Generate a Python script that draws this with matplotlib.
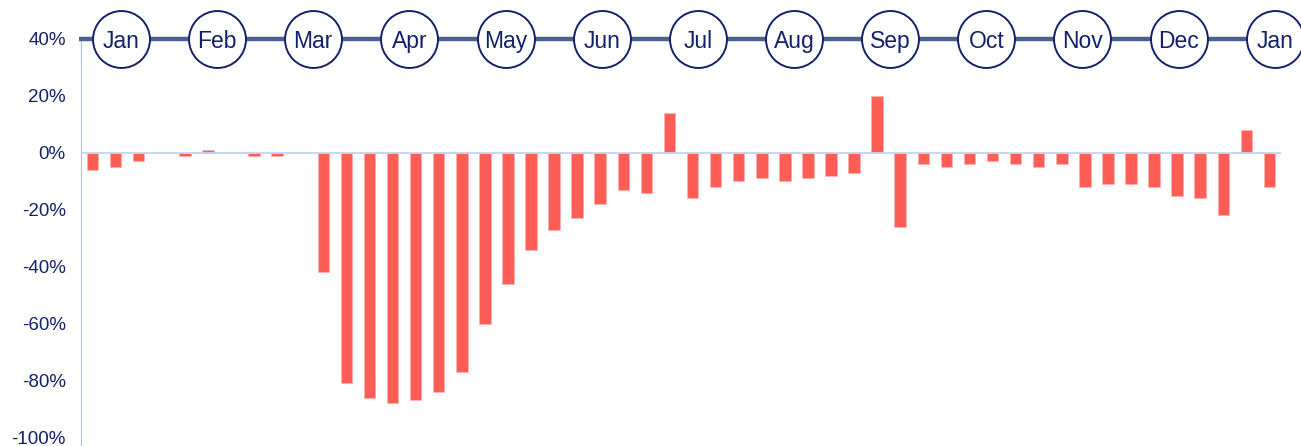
import numpy as np
import matplotlib.pyplot as plt

plt.rcParams['font.family'] = ['Liberation Sans', 'DejaVu Sans']

# weekly year-on-year change, %
weeks = np.arange(52)
change = [
    -6, -5, -3, 0, -1, 1, 0, -1, -1, 0,
    -42, -81, -86, -88, -87, -84, -77, -60, -46, -34,
    -27, -23, -18, -13, -14, 14, -16, -12, -10, -9,
    -10, -9, -8, -7, 20, -26, -4, -5, -4, -3,
    -4, -5, -4, -12, -11, -11, -12, -15, -16, -22,
    8, -12,
]
months = ['Jan', 'Feb', 'Mar', 'Apr', 'May', 'Jun', 'Jul',
          'Aug', 'Sep', 'Oct', 'Nov', 'Dec', 'Jan']
yticks = [40, 20, 0, -20, -40, -60, -80, -100]

navy = '#14216a'
bar_color = '#ff5e57'

fig = plt.figure(figsize=(13.01, 4.46), dpi=100)
ax = fig.add_axes([81 / 1301, 0, 1200 / 1301, 407 / 446])

ax.bar(weeks, change, width=0.5, color=bar_color, edgecolor='#ffb3b0',
       linewidth=0.4, zorder=2)
ax.axhline(0, color='#c3d3f5', linewidth=1.3, zorder=3)

ax.set_xlim(-0.5, 51.5)
ax.set_ylim(-103, 40)
ax.set_yticks(yticks)
ax.set_yticklabels([f'{t}%' for t in yticks])
ax.tick_params(axis='y', length=0, pad=11, labelsize=13.5, labelcolor=navy)
ax.set_xticks([])

for side in ['top', 'right', 'bottom']:
    ax.spines[side].set_visible(False)
ax.spines['left'].set_color('#b4bfdc')
ax.spines['left'].set_linewidth(0.8)

# month timeline along the top
mx = np.linspace(1.23, 51.23, len(months))
ax.plot([-0.6, mx[-1]], [40, 40], color='#4a6191', linewidth=3.2,
        solid_capstyle='butt', clip_on=False, zorder=4)
ax.scatter(mx, [40] * len(mx), s=41 ** 2, facecolor='white', edgecolor=navy,
           linewidth=1.4, clip_on=False, zorder=5)
for x, m in zip(mx, months):
    ax.annotate(m, (x, 40), xytext=(0, -6.3), textcoords='offset points',
                ha='center', va='baseline', fontsize=16.5, color=navy,
                annotation_clip=False, zorder=6)

fig.savefig('out.png', dpi=100)
